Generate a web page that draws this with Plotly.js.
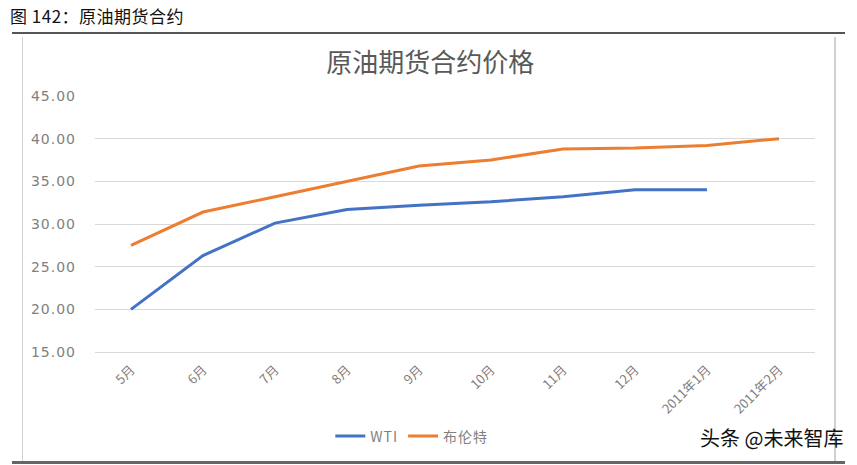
<!DOCTYPE html>
<html>
<head>
<meta charset="utf-8">
<script src="https://cdn.plot.ly/plotly-3.0.1.min.js"></script>
<style>
html,body{margin:0;padding:0;background:#fff;width:857px;height:465px;overflow:hidden;}
#wrap{position:relative;width:857px;height:465px;}
#chart{position:absolute;left:0;top:0;width:857px;height:465px;}
.hdr{position:absolute;left:10px;top:3px;font-family:"Noto Sans CJK SC",sans-serif;font-size:17px;color:#111;font-weight:400;letter-spacing:0.5px;}
.topline{position:absolute;left:12px;top:32px;width:833px;height:2px;background:#555;}
.frame{position:absolute;left:22px;top:37px;width:811px;height:424px;border-left:1px solid #d0d0d0;border-right:2px solid #d0d0d0;}
.botline{position:absolute;left:12px;top:461px;width:833px;height:3px;background:#666;}
.wm{position:absolute;left:700px;top:423px;font-family:"Noto Sans CJK SC",sans-serif;font-size:20px;color:#111;}
.ytick text{letter-spacing:1px;}
.legendtext{letter-spacing:1px;}
</style>
</head>
<body>
<div id="wrap">
<div class="frame"></div>
<div id="chart"></div>
<div class="hdr">图 142：原油期货合约</div>
<div class="topline"></div>
<div class="botline"></div>
<div class="wm">头条 @未来智库</div>
</div>
<script>
var categories = ["5月","6月","7月","8月","9月","10月","11月","12月","2011年1月","2011年2月"];
var wtiValues = [20.0, 26.3, 30.1, 31.7, 32.2, 32.6, 33.2, 34.0, 34.0, null];
var brentValues = [27.5, 31.4, 33.2, 35.0, 36.8, 37.5, 38.8, 38.9, 39.2, 40.0];
var yTicks = [15, 20, 25, 30, 35, 40, 45];
var seriesNames = ["WTI", "布伦特"];
var chartTitle = "原油期货合约价格";

var font = "'Noto Sans CJK SC', 'Noto Sans', sans-serif";
var traces = [
  {x: categories, y: wtiValues, name: seriesNames[0], type: "scatter", mode: "lines",
   line: {color: "#4472C4", width: 3}, connectgaps: false},
  {x: categories, y: brentValues, name: seriesNames[1], type: "scatter", mode: "lines",
   line: {color: "#ED7D31", width: 3}}
];
var layout = {
  width: 857, height: 465,
  margin: {l: 95, r: 42, t: 96, b: 113},
  paper_bgcolor: "rgba(0,0,0,0)", plot_bgcolor: "rgba(0,0,0,0)",
  font: {family: font, color: "#7f7f7f", size: 12},
  title: {text: chartTitle, x: 0.502, xanchor: "center", y: 0.865, yanchor: "middle",
          font: {family: font, size: 26, color: "#595959"}},
  xaxis: {type: "category", range: [-0.5, 9.5], tickangle: -45, showgrid: false,
          showline: true, linecolor: "#d9d9d9", linewidth: 1, ticks: "",
          ticklabelstandoff: 4,
          tickfont: {family: font, size: 13, color: "#7f7f7f"}, fixedrange: true},
  yaxis: {range: [15, 45], tickvals: yTicks, tickformat: ".2f", showgrid: true,
          gridcolor: "#d9d9d9", gridwidth: 1, zeroline: false, showline: false, ticks: "",
          ticklabelstandoff: 18,
          tickfont: {family: "'DejaVu Sans', sans-serif", size: 14, color: "#7f7f7f"}, fixedrange: true},
  showlegend: true,
  legend: {orientation: "h", x: 0.44, xanchor: "center", y: -0.33, yanchor: "middle",
           font: {family: font, size: 14, color: "#7f7f7f"}, bgcolor: "rgba(0,0,0,0)"}
};
Plotly.newPlot("chart", traces, layout, {displayModeBar: false, staticPlot: true});
</script>
</body>
</html>
